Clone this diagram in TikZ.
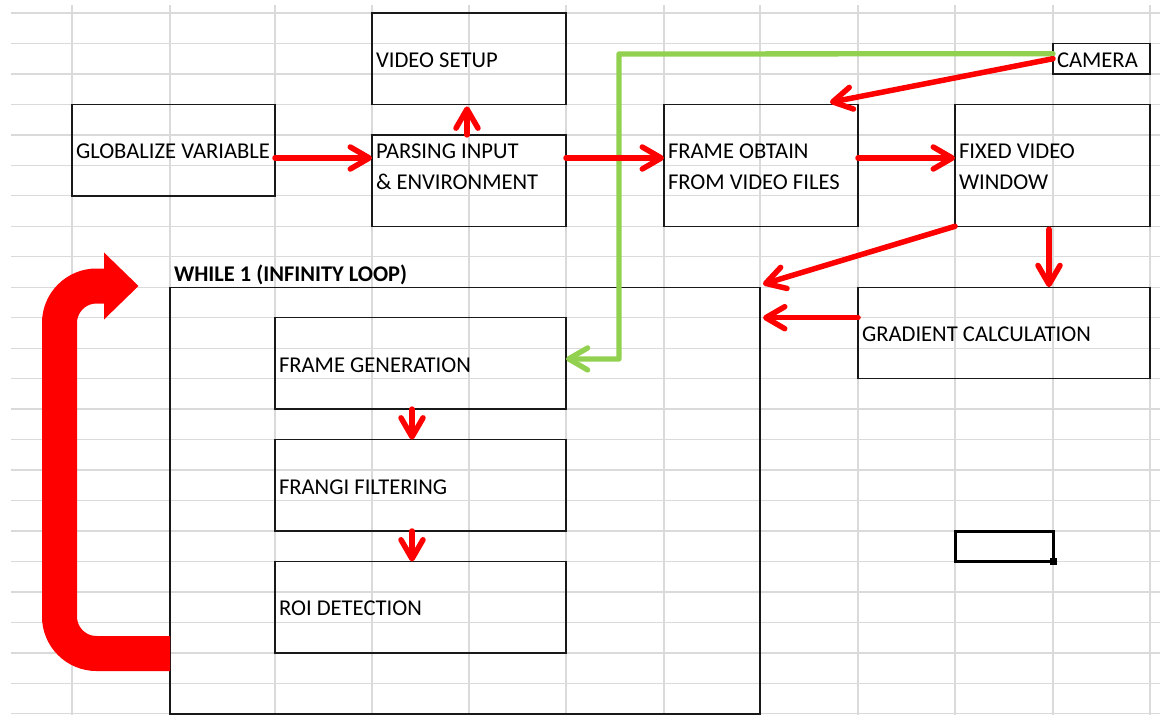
\documentclass[tikz,border=0pt]{standalone}
\usepackage{fontspec}
\setmainfont{Carlito}
\usetikzlibrary{arrows.meta,calc}

\definecolor{gridgray}{HTML}{DADADA}
\definecolor{camgreen}{HTML}{92D050}

% rectangle spanning (x1,y1)-(x2,y2), y measured downwards
\newcommand\cellrect[6][]{%
  \pgfmathsetmacro\cellw{#5-#3}%
  \pgfmathsetmacro\cellh{#6-#4}%
  \node[cellbox,#1,minimum width=\cellw pt,minimum height=\cellh pt] (#2) at ({(#3+#5)/2},{(#4+#6)/2}) {};}

\begin{document}
\begin{tikzpicture}[x=1pt,y=-1pt,
  gridline/.style={draw=gridgray,line width=1.3pt},
  cellbox/.style={draw=black!90,line width=1.4pt,rectangle,inner sep=0pt,outer sep=0pt},
  celltext/.style={anchor=base west,inner sep=0pt,outer sep=0pt,align=left,
    font=\fontsize{22.6}{30.47}\selectfont},
  flow/.style={draw=red,line width=5.5pt,line cap=round,line join=round,
    -{Straight Barb[length=19pt,width=22pt,line cap=round,line join=round]}},
  feed/.style={draw=camgreen,line width=5.3pt,line cap=round,line join=round,
    -{Straight Barb[length=19pt,width=22pt,line cap=round,line join=round]}},
  loopband/.style={draw=red,line width=35pt,rounded corners=37pt}
]
\useasboundingbox[fill=white] (0,0) rectangle (1160,715);

% spreadsheet grid
\foreach \x in {72,170,275,372,469,566,664,760,858,955,1053,1150}
  \draw[gridline] (\x,5) -- (\x,715);
\foreach \k in {0,...,23}
  \draw[gridline] (11,{13+30.47*\k}) -- (1160,{13+30.47*\k});

% boxes
\cellrect{vsetup}{372}{13}{566}{104.4}
\cellrect{glob}{72}{104.4}{275}{195.8}
\cellrect{parse}{372}{134.9}{566}{226.3}
\cellrect{obtain}{664}{104.4}{858}{226.3}
\cellrect{fixed}{955}{104.4}{1150}{226.3}
\cellrect{camera}{1053}{43.5}{1150}{73.9}
\cellrect{grad}{858}{287.2}{1150}{378.6}
\cellrect{loop}{170}{287.2}{760}{713.8}
\cellrect{fgen}{275}{317.7}{566}{409.1}
\cellrect{frangi}{275}{439.6}{566}{531}
\cellrect{roi}{275}{561.5}{566}{652.9}
\cellrect[draw=black,line width=3pt]{sel}{955}{531}{1053}{561.5}
\fill[black] ($(sel.south east)+(-3.5,-3.5)$) rectangle +(7,7);

% texts (two-line texts are placed by the baseline of their last line)
\node[celltext] (t-vsetup) at (376,67.4) {VIDEO SETUP};
\node[celltext] (t-glob) at (76,158.9) {GLOBALIZE VARIABLE};
\node[celltext] (t-parse) at (376,189.3) {PARSING INPUT\\\& ENVIRONMENT};
\node[celltext] (t-obtain) at (668,189.3) {FRAME OBTAIN\\FROM VIDEO FILES};
\node[celltext] (t-fixed) at (959,189.3) {FIXED VIDEO\\WINDOW};
\node[celltext] (t-camera) at (1057,67.4) {CAMERA};
\node[celltext] (t-grad) at (862,341.7) {GRADIENT CALCULATION};
\node[celltext,font=\fontsize{22.4}{30.47}\selectfont\bfseries] (t-loop) at (174,281.5) {WHILE 1 (INFINITY LOOP)};
\node[celltext] (t-fgen) at (279,372.1) {FRAME GENERATION};
\node[celltext] (t-frangi) at (279,494) {FRANGI FILTERING};
\node[celltext] (t-roi) at (279,615.9) {ROI DETECTION};

% camera feed into frame generation
\coordinate (feedout) at ($(camera.west)+(0,-5)$);
\coordinate (feedin) at ($(fgen.east)+(0,-4.5)$);
\draw[feed] (feedout) -- (619,54) -- (619,359) -- (feedin);

% red flow arrows
\coordinate (row1) at (0,158);
\draw[flow] (glob.east |- row1) -- (parse.west |- row1);
\draw[flow] (parse.east |- row1) -- (obtain.west |- row1);
\draw[flow] (obtain.east |- row1) -- (fixed.west |- row1);
\draw[flow] ([xshift=-2pt]parse.north) -- ([xshift=-2pt,yshift=-2pt]vsetup.south);
\draw[flow] (camera.west) -- ([shift={(-28,-2)}]obtain.north east);
\draw[flow] (fixed.south west) -- ([shift={(3,-3)}]loop.north east);
\coordinate (fg) at ([xshift=-3.5pt,yshift=-3pt]fixed.south);
\draw[flow] (fg) -- (fg |- grad.north);
\coordinate (gl) at ($(grad.north west)+(0,30.5)$);
\draw[flow] (gl) -- ([xshift=3pt]loop.east |- gl);
\draw[flow] ([xshift=-8.5pt]fgen.south) -- ([xshift=-8.5pt]frangi.north);
\draw[flow] ([xshift=-8.5pt]frangi.south) -- ([xshift=-8.5pt]roi.north);

% infinite loop return arrow
\coordinate (loopout) at ($(loop.south west)+(0,-60.3)$);
\coordinate (loophead) at (104,286);
\draw[loopband] (loopout) -- (59.5,653.5) -- (59.5,286) -- (loophead);
\fill[red] (104,252.5) -- (138.5,286) -- (104,319.5) -- cycle;
\end{tikzpicture}
\end{document}
